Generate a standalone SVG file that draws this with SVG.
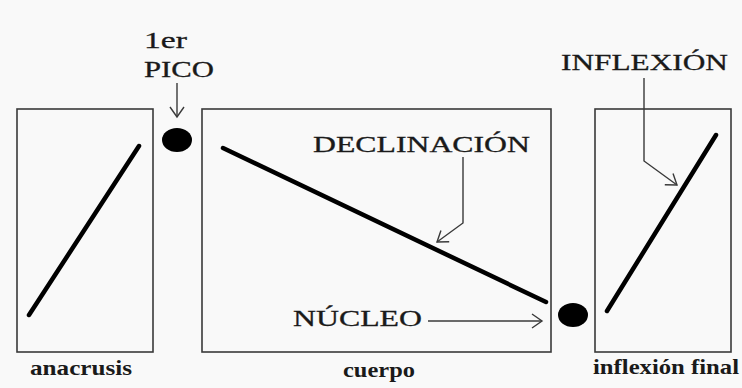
<svg xmlns="http://www.w3.org/2000/svg" width="742" height="388" viewBox="0 0 742 388">
<style>
.box{fill:none;stroke:#3a3a3a;stroke-width:1.6}
.contour{stroke:#000;stroke-width:4.5;stroke-linecap:round}
.dot{fill:#000}
.cap{font-family:"Liberation Serif",serif;font-size:23px;fill:#1a1a1a;stroke:#1a1a1a;stroke-width:0.3}
.lbl{font-family:"Liberation Serif",serif;font-size:22px;font-weight:bold;fill:#1a1a1a}
.conn{fill:none;stroke:#3a3a3a;stroke-width:1.4}
</style>
<defs>
<marker id="arr" markerUnits="userSpaceOnUse" markerWidth="20" markerHeight="20" viewBox="-12 -10 14 20" refX="0" refY="0" orient="auto">
<path d="M-10,-7 L0,0 L-10,7" fill="none" stroke="#3a3a3a" stroke-width="1.4"/>
</marker>
</defs>
<rect width="742" height="388" fill="#f9f9f9"/>
<g id="anacrusis">
<rect class="box" x="17" y="109" width="136" height="243"/>
<line class="contour" x1="29" y1="315" x2="139" y2="146"/>
<text class="lbl" x="30" y="375" textLength="102" lengthAdjust="spacingAndGlyphs">anacrusis</text>
</g>
<g id="pico">
<ellipse class="dot" cx="177" cy="140" rx="15" ry="12"/>
<text class="cap" x="144" y="48" textLength="43" lengthAdjust="spacingAndGlyphs">1er</text>
<text class="cap" x="144" y="77" textLength="70" lengthAdjust="spacingAndGlyphs">PICO</text>
</g>
<g id="cuerpo">
<rect class="box" x="202" y="109" width="349" height="243"/>
<line class="contour" x1="223" y1="148" x2="546" y2="302"/>
<text class="cap" x="313" y="152" textLength="217" lengthAdjust="spacingAndGlyphs">DECLINACIÓN</text>
<text class="cap" x="293" y="326" textLength="129" lengthAdjust="spacingAndGlyphs">NÚCLEO</text>
<text class="lbl" x="343" y="377" textLength="72" lengthAdjust="spacingAndGlyphs">cuerpo</text>
</g>
<g id="nucleo">
<ellipse class="dot" cx="573" cy="315" rx="15" ry="12"/>
</g>
<g id="inflexion-final">
<rect class="box" x="595" y="109" width="136" height="243"/>
<line class="contour" x1="607" y1="311" x2="716" y2="135"/>
<text class="cap" x="561" y="70" textLength="167" lengthAdjust="spacingAndGlyphs">INFLEXIÓN</text>
<text class="lbl" x="593" y="374" textLength="146" lengthAdjust="spacingAndGlyphs">inflexión final</text>
</g>
<g id="connectors">
<line class="conn" x1="177" y1="83" x2="177" y2="117" marker-end="url(#arr)"/>
<polyline class="conn" points="463,157 463,223 437,242" marker-end="url(#arr)"/>
<line class="conn" x1="428" y1="321" x2="542" y2="321" marker-end="url(#arr)"/>
<polyline class="conn" points="644,78 644,161 677,185" marker-end="url(#arr)"/>
</g>
</svg>
